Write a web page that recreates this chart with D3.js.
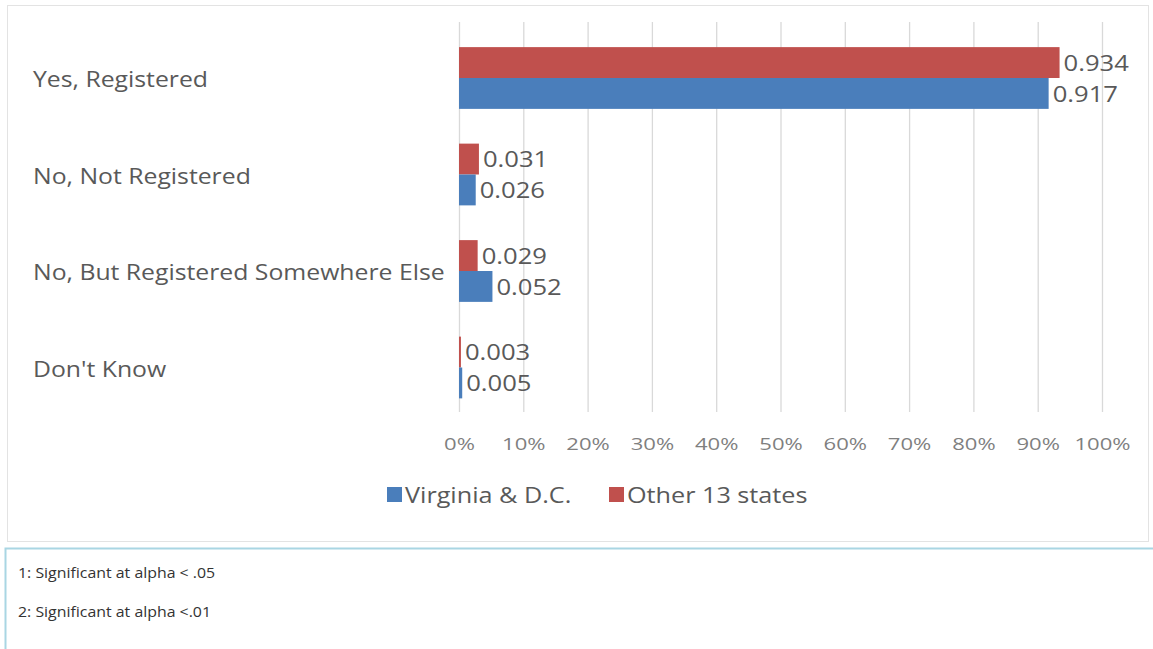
<!DOCTYPE html>
<html>
<head>
<meta charset="utf-8">
<script src="https://cdn.jsdelivr.net/npm/d3@7"></script>
<style>
	body { margin: 0; background: #fff; }
	svg { display: block; }
</style>
</head>
<body>
<svg width="1153" height="649"></svg>
<script>
var categories = ["Yes, Registered", "No, Not Registered", "No, But Registered Somewhere Else", "Don't Know"],
	seriesNames = ["Other 13 states", "Virginia & D.C."],
	otherStates = [0.934, 0.031, 0.029, 0.003],
	virginiaDC = [0.917, 0.026, 0.052, 0.005],
	tickValues = [0, 0.1, 0.2, 0.3, 0.4, 0.5, 0.6, 0.7, 0.8, 0.9, 1],
	legendNames = ["Virginia & D.C.", "Other 13 states"],
	footnotes = ["1: Significant at alpha < .05", "2: Significant at alpha <.01"];

var colors = {"Other 13 states": "#c0504d", "Virginia & D.C.": "#4a7ebb"},
	textColor = "#595959",
	font = "'Open Sans', sans-serif";

var svg = d3.select("svg");

// outer frame of the chart and the footnote box
svg.append("rect")
	.attr("x", 7.5).attr("y", 5.5)
	.attr("width", 1141).attr("height", 536)
	.attr("fill", "none")
	.attr("stroke", "#e3e3e3");

svg.append("path")
	.attr("d", "M5.5,649 V548.5 H1153")
	.attr("fill", "none")
	.attr("stroke", "#a9d6e3")
	.attr("stroke-width", 2);

var x = d3.scaleLinear()
	.domain([0, 1])
	.range([459, 1102]);

var y = d3.scaleBand()
	.domain(categories)
	.range([29.75, 415.75])
	.paddingInner(0.36)
	.paddingOuter(0.18);

var ySub = d3.scaleBand()
	.domain(seriesNames)
	.range([0, y.bandwidth()]);

var rows = categories.map(function(c, i){
	return {category: c, values: [
		{name: seriesNames[0], value: otherStates[i]},
		{name: seriesNames[1], value: virginiaDC[i]}
	]};
});

// the source picture is a bit wider than it is tall, so text gets stretched sideways
function stretched(sel, pos, s){
	return sel.attr("transform", function(d){
		var a = pos(d);
		return "translate(" + a[0] + "," + a[1] + ") scale(" + s + ",1)";
	});
}

// vertical gridlines
svg.append("g")
	.attr("class", "grid")
	.selectAll("line").data(tickValues).enter()
	.append("line")
	.attr("x1", function(d){ return x(d) + 0.5; })
	.attr("x2", function(d){ return x(d) + 0.5; })
	.attr("y1", 22)
	.attr("y2", 412)
	.attr("stroke", "#d9d9d9")
	.attr("stroke-width", 1.3);

// tick labels
var xAxis = svg.append("g")
	.attr("transform", "translate(0,450)")
	.call(d3.axisBottom(x).tickValues(tickValues).tickFormat(d3.format(".0%")).tickSize(0).tickPadding(0));
xAxis.select(".domain").remove();
xAxis.selectAll("text")
	.attr("dy", 0)
	.attr("y", 0)
	.attr("font-family", font)
	.attr("font-size", 17)
	.attr("fill", "#7f7f7f")
	.attr("transform", "scale(1.3,1)");

// category labels
svg.append("g")
	.selectAll("text").data(categories).enter()
	.append("text")
	.attr("font-family", font)
	.attr("font-size", 21)
	.attr("fill", textColor)
	.attr("dominant-baseline", "central")
	.text(function(d){ return d; })
	.call(stretched, function(d){ return [33, y(d) + y.bandwidth() / 2 + 1]; }, 1.18);

// bars
var groups = svg.append("g")
	.selectAll("g").data(rows).enter()
	.append("g")
	.attr("transform", function(d){ return "translate(0," + y(d.category) + ")"; });

groups.selectAll("rect").data(function(d){ return d.values; }).enter()
	.append("rect")
	.attr("x", x(0))
	.attr("y", function(d){ return ySub(d.name); })
	.attr("width", function(d){ return x(d.value) - x(0); })
	.attr("height", ySub.bandwidth())
	.attr("fill", function(d){ return colors[d.name]; });

groups.selectAll("text").data(function(d){ return d.values; }).enter()
	.append("text")
	.attr("font-family", font)
	.attr("font-size", 21)
	.attr("fill", textColor)
	.attr("dominant-baseline", "central")
	.text(function(d){ return d3.format(".3f")(d.value); })
	.call(stretched, function(d){ return [x(d.value) + 4, ySub(d.name) + ySub.bandwidth() / 2]; }, 1.22);

// legend
var legend = svg.append("g")
	.selectAll("g").data(legendNames).enter()
	.append("g")
	.attr("transform", function(d, i){ return "translate(" + [387, 609][i] + ",487)"; });

legend.append("rect")
	.attr("width", 15)
	.attr("height", 15)
	.attr("fill", function(d){ return colors[d]; });

legend.append("text")
	.attr("font-family", font)
	.attr("font-size", 21)
	.attr("fill", textColor)
	.attr("dominant-baseline", "central")
	.text(function(d){ return d; })
	.call(stretched, function(){ return [18, 8]; }, 1.2);

// footnotes
svg.append("g")
	.selectAll("text").data(footnotes).enter()
	.append("text")
	.attr("font-family", font)
	.attr("font-size", 15)
	.attr("fill", "#333")
	.text(function(d){ return d; })
	.call(stretched, function(d){ return [18, 578 + footnotes.indexOf(d) * 39]; }, 1.06);
</script>
</body>
</html>
